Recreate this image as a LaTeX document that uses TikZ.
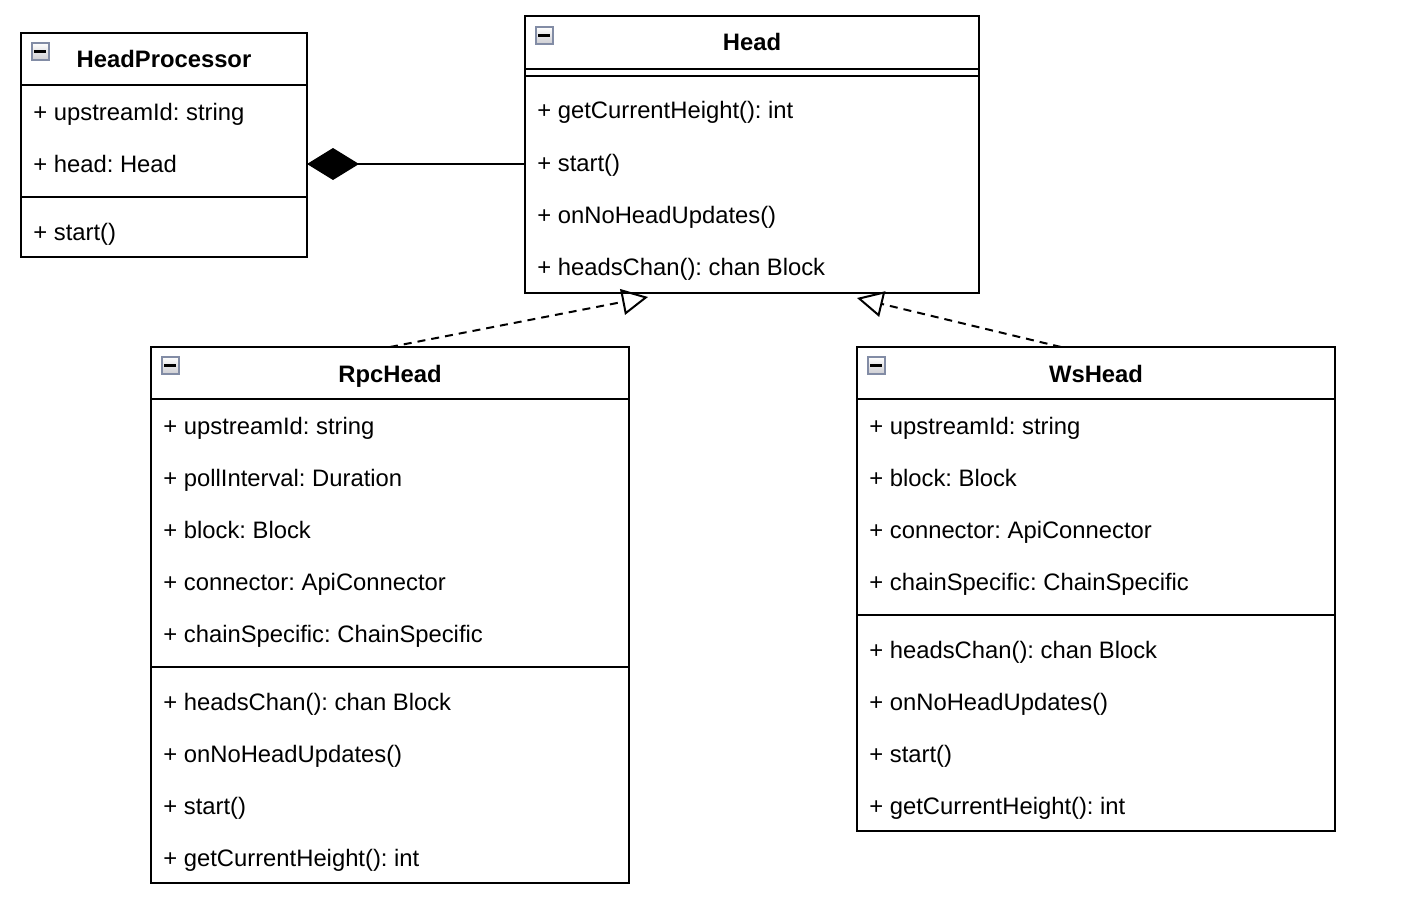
\documentclass[tikz,border=0pt]{standalone}
\usepackage{fontspec}
\setmainfont{Liberation Sans}
\usetikzlibrary{arrows.meta}
\frenchspacing
\definecolor{iconbd}{RGB}{130,140,165}
\definecolor{iconfill}{RGB}{205,205,210}
\tikzset{
  classbox/.style={draw, line width=1pt, anchor=north west, inner sep=0pt, outer sep=0pt},
  member/.style={anchor=base west, inner sep=0pt, font=\fontsize{11.9}{14}\selectfont},
  ctitle/.style={anchor=base, inner sep=0pt, font=\fontsize{11.9}{14}\selectfont\bfseries},
  icon/.style={draw=iconbd, line width=0.9pt, top color=white, bottom color=iconfill,
    minimum size=8.5pt, inner sep=0pt, anchor=north west,
    path picture={\draw[draw=black, line width=1.4pt] ([xshift=-3pt,yshift=-0.2pt]path picture bounding box.center) -- ++(6pt,0);}},
  sepline/.style={line width=1pt},
  comp/.style={line width=1pt, -{Diamond[length=26pt,width=16pt,fill=black,line join=miter]}},
  real/.style={line width=1pt, dash pattern=on 4pt off 3pt, -{Triangle[open,length=13pt,width=13pt,line width=1pt]}},
}
\begin{document}
\begin{tikzpicture}[x=0.5pt,y=-0.5pt]
\useasboundingbox[fill=white] (0,0) rectangle (1416,920);

% HeadProcessor
\node[classbox, minimum width=143pt, minimum height=112pt] (hp) at (21,33) {};
\draw[sepline] (21,85) -- (307,85);
\draw[sepline] (21,197) -- (307,197);
\node[icon] (hpicon) at (31,42) {};
\node[ctitle] (hptitle) at (164,68) {HeadProcessor};
\node[member] (hp1) at (33,120) {+ upstreamId: string};
\node[member] (hp2) at (33,172) {+ head: Head};
\node[member] (hp3) at (33,240) {+ start()};

% Head
\node[classbox, minimum width=227pt, minimum height=138.5pt] (head) at (525,16) {};
\draw[sepline] (525,69) -- (979,69);
\draw[sepline] (525,76) -- (979,76);
\node[icon] (headicon) at (535,26) {};
\node[ctitle] (headtitle) at (752,51) {Head};
\node[member] (h1) at (537,119) {+ getCurrentHeight(): int};
\node[member] (h2) at (537,171) {+ start()};
\node[member] (h3) at (537,223) {+ onNoHeadUpdates()};
\node[member] (h4) at (537,275) {+ headsChan(): chan Block};

% RpcHead
\node[classbox, minimum width=239pt, minimum height=268pt] (rpc) at (151,347) {};
\draw[sepline] (151,399) -- (629,399);
\draw[sepline] (151,667) -- (629,667);
\node[icon] (rpcicon) at (161,356) {};
\node[ctitle] (rpctitle) at (390,382) {RpcHead};
\node[member] (r1) at (163,434) {+ upstreamId: string};
\node[member] (r2) at (163,486) {+ pollInterval: Duration};
\node[member] (r3) at (163,538) {+ block: Block};
\node[member] (r4) at (163,590) {+ connector: ApiConnector};
\node[member] (r5) at (163,642) {+ chainSpecific: ChainSpecific};
\node[member] (r6) at (163,710) {+ headsChan(): chan Block};
\node[member] (r7) at (163,762) {+ onNoHeadUpdates()};
\node[member] (r8) at (163,814) {+ start()};
\node[member] (r9) at (163,866) {+ getCurrentHeight(): int};

% WsHead
\node[classbox, minimum width=239pt, minimum height=242pt] (ws) at (857,347) {};
\draw[sepline] (857,399) -- (1335,399);
\draw[sepline] (857,615) -- (1335,615);
\node[icon] (wsicon) at (867,356) {};
\node[ctitle] (wstitle) at (1096,382) {WsHead};
\node[member] (w1) at (869,434) {+ upstreamId: string};
\node[member] (w2) at (869,486) {+ block: Block};
\node[member] (w3) at (869,538) {+ connector: ApiConnector};
\node[member] (w4) at (869,590) {+ chainSpecific: ChainSpecific};
\node[member] (w5) at (869,658) {+ headsChan(): chan Block};
\node[member] (w6) at (869,710) {+ onNoHeadUpdates()};
\node[member] (w7) at (869,762) {+ start()};
\node[member] (w8) at (869,814) {+ getCurrentHeight(): int};

% connectors
\draw[comp] (head.west |- 0,164) -- (hp.east |- 0,164);
\coordinate (rpcstart) at (390,347);
\coordinate (rpctip) at (648,297);
\coordinate (wsstart) at (1061,347);
\coordinate (wstip) at (857,298);
\draw[real] (rpcstart) -- (rpctip);
\draw[real] (wsstart) -- (wstip);
\end{tikzpicture}
\end{document}
